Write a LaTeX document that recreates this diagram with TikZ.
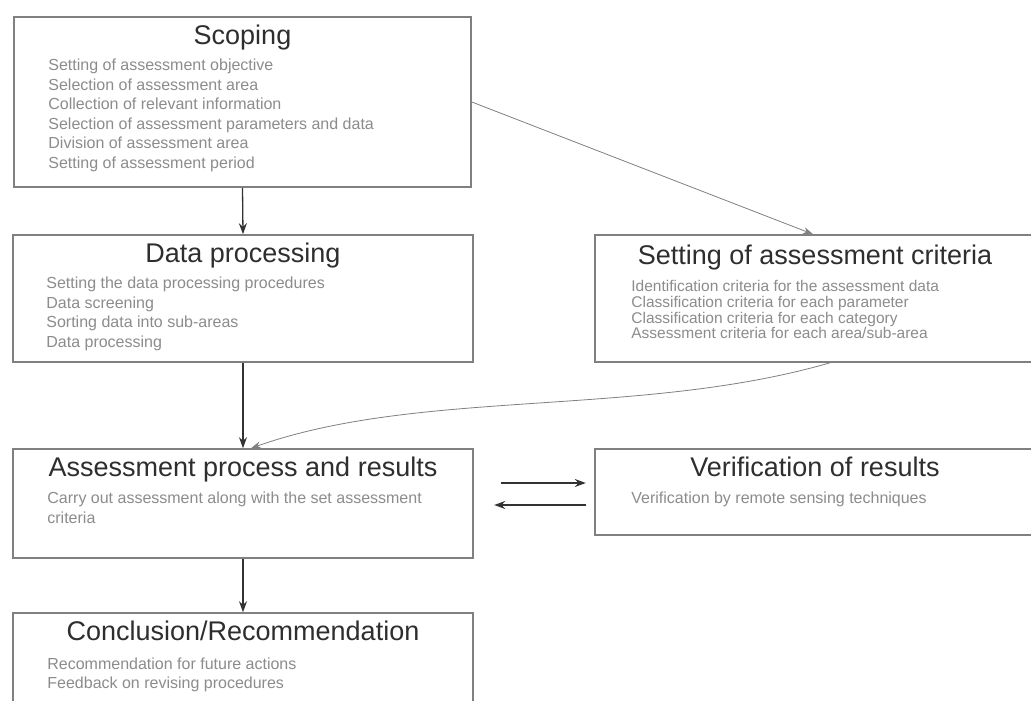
\documentclass[tikz,border=0pt]{standalone}
\usepackage{fontspec}
\setmainfont{Liberation Sans}
\usetikzlibrary{arrows.meta}

\begin{document}
\begin{tikzpicture}[x=1pt,y=-1pt,>=Stealth,box/.style={draw=black!50, line width=1.6pt, inner sep=0pt},title/.style={anchor=base, inner sep=0pt, text=black!82, font=\fontsize{27}{30}\selectfont},items/.style={anchor=north west, inner sep=0pt, align=left, text=black!45, font=\fontsize{16}{19.5}\selectfont},flow/.style={-{Stealth[length=11pt,width=8pt]}, line width=1.3pt, draw=black!80},link/.style={-{Stealth[length=10pt,width=7pt]}, line width=0.8pt, draw=black!50}]
\path[fill=white,use as bounding box] (0,0) rectangle (1031,701);
% boxes
\node[box, minimum width=457, minimum height=170] (scope) at (242.5,102) {};
\node[box, minimum width=460, minimum height=127] (data) at (243,298.5) {};
\node[box, minimum width=440, minimum height=127] (crit) at (815,298.5) {};
\node[box, minimum width=460, minimum height=109] (asm) at (243,503.5) {};
\node[box, minimum width=440, minimum height=86] (ver) at (815,492) {};
\node[box, minimum width=460, minimum height=107] (conc) at (243,666.5) {};
% titles
\node[title] (scopeT) at ([yshift=-28pt]scope.north) {Scoping};
\node[title] (dataT) at ([yshift=-28pt]data.north) {Data processing};
\node[title] (critT) at ([yshift=-30pt]crit.north) {Setting of assessment criteria};
\node[title] (asmT) at ([yshift=-28pt]asm.north) {Assessment process and results};
\node[title] (verT) at ([yshift=-28pt]ver.north) {Verification of results};
\node[title] (concT) at ([yshift=-28pt]conc.north) {Conclusion/Recommendation};
% contents
\node[items] (scopeL) at ([xshift=35pt,yshift=-43pt]scope.north west) {Setting of assessment objective\\Selection of assessment area\\Collection of relevant information\\Selection of assessment parameters and data\\Division of assessment area\\Setting of assessment period};
\node[items] (dataL) at ([xshift=34pt,yshift=-43pt]data.north west) {Setting the data processing procedures\\Data screening\\Sorting data into sub-areas\\Data processing};
\node[items, font=\fontsize{15.5}{15.7}\selectfont] (critL) at ([xshift=37pt,yshift=-46pt]crit.north west) {Identification criteria for the assessment data\\Classification criteria for each parameter\\Classification criteria for each category\\Assessment criteria for each area/sub-area};
\node[items] (asmL) at ([xshift=35pt,yshift=-44pt]asm.north west) {Carry out assessment along with the set assessment\\criteria};
\node[items] (verL) at ([xshift=37pt,yshift=-44pt]ver.north west) {Verification by remote sensing techniques};
\node[items] (concL) at ([xshift=35pt,yshift=-45pt]conc.north west) {Recommendation for future actions\\Feedback on revising procedures};
% connectors
\draw[flow] (scope.south) -- (data.north);
\draw[flow] (data.south) -- (asm.north);
\draw[flow] (asm.south) -- (conc.north);
\draw[link] (scope.east) -- ([xshift=-2pt]crit.north);
\draw[link] ([xshift=15pt]crit.south) .. controls +(-190,55) and +(170,-60) .. ([xshift=8pt]asm.north);
\draw[flow] ([xshift=27pt,yshift=20.5pt]asm.east) -- ++(85,0);
\draw[flow] ([xshift=-8pt,yshift=-13pt]ver.west) -- ++(-92,0);
\end{tikzpicture}
\end{document}
